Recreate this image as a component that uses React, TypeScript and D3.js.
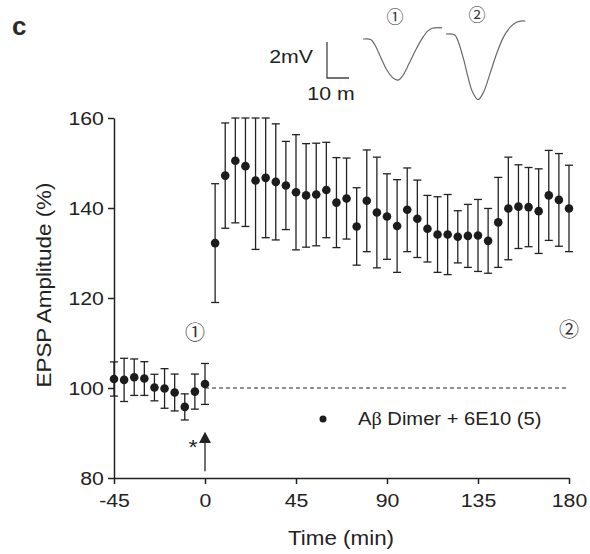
import React, { useEffect, useRef } from "react";
import * as d3 from "d3";

// baseline recordings, -45 .. 0 min
const baseTimes = [-45, -40, -35, -30, -25, -20, -15, -10, -5, 0];
const baseMeans = [102.0, 101.8, 102.4, 102.1, 100.1, 99.9, 99.0, 95.8, 99.2, 100.9];
const baseSems = [3.8, 4.8, 4.05, 3.75, 2.95, 4.4, 4.1, 2.9, 3.9, 4.55];

// after HFS, 5 .. 180 min
const postTimes = [
  5, 10, 15, 20, 25, 30, 35, 40, 45, 50, 55, 60, 65, 70, 75, 80, 85, 90,
  95, 100, 105, 110, 115, 120, 125, 130, 135, 140, 145, 150, 155, 160, 165, 170, 175, 180,
];
const postMeans = [
  132.2, 147.2, 150.5, 149.3, 146.1, 146.7, 145.8, 145.0, 143.5, 142.8, 143.0, 144.0,
  141.2, 142.1, 135.9, 141.6, 139.0, 138.1, 136.0, 139.6, 137.6, 135.4, 134.1, 134.1,
  133.6, 133.8, 133.9, 132.7, 136.8, 139.9, 140.3, 140.2, 139.3, 142.8, 141.8, 139.9,
];
const postSems = [
  13.2, 11.7, 13.8, 13.4, 15.3, 13.3, 12.9, 9.8, 12.8, 11.5, 11.4, 10.6,
  10.0, 9.0, 8.6, 11.3, 12.3, 9.5, 10.3, 9.3, 8.6, 7.4, 8.4, 8.9,
  5.8, 7.0, 8.0, 7.2, 10.0, 11.4, 9.3, 8.8, 9.4, 10.0, 10.3, 9.6,
];

const xTicks = [-45, 0, 45, 90, 135, 180];
const yTicks = [80, 100, 120, 140, 160];
const legendLabel = " Dimer + 6E10 (5)";

// example EPSP traces (ms, mV relative to start)
const trace1Ms = [0, 3.5, 5.5, 8, 11, 14, 16, 18, 21, 24, 27, 29.5, 31.5, 36];
const trace1mV = [0, -0.03, -0.35, -1.0, -1.75, -2.2, -2.28, -2.05, -1.35, -0.6, 0.05, 0.45, 0.6, 0.62];
const trace2Ms = [0, 4, 5.5, 8, 10, 12, 14.5, 17, 20, 23, 26, 29, 32, 34, 36];
const trace2mV = [0, -0.05, -0.4, -1.4, -2.4, -3.2, -3.65, -3.25, -2.2, -1.1, -0.2, 0.35, 0.65, 0.72, 0.72];

const W = 590;
const H = 554;
const FONT = "'Liberation Sans', Arial, Helvetica, sans-serif";
const INK = "#222";
const SX = 1.12; // scanned type is a bit wider than Arial

export default function App() {
  const ref = useRef<SVGSVGElement>(null);

  useEffect(() => {
    const svg = d3.select(ref.current);
    svg.selectAll("*").remove();

    const x = d3.scaleLinear().domain([-45, 180]).range([114, 569]);
    const y = d3.scaleLinear().domain([80, 160]).range([478, 118]);

    const label = (tx, ty, str, size, anchor = "start", extra = "") =>
      svg.append("text")
        .attr("transform", `translate(${tx},${ty}) ${extra} scale(${SX},1)`)
        .attr("text-anchor", anchor)
        .attr("font-family", FONT)
        .attr("font-size", size)
        .attr("fill", INK)
        .text(str);

    // axes
    const gx = svg.append("g")
      .attr("transform", `translate(0,${y(80)})`)
      .call(d3.axisBottom(x).tickValues(xTicks).tickSize(6).tickSizeOuter(0).tickPadding(10).tickFormat(d => String(d)));
    const gy = svg.append("g")
      .attr("transform", `translate(${x(-45)},0)`)
      .call(d3.axisLeft(y).tickValues(yTicks).tickSize(6).tickSizeOuter(0).tickPadding(3).tickFormat(d => String(d)));

    [gx, gy].forEach(g => {
      g.select(".domain").attr("stroke", INK).attr("stroke-width", 1.5);
      g.selectAll(".tick line").attr("stroke", INK).attr("stroke-width", 1.5);
      g.selectAll(".tick text")
        .attr("font-family", FONT)
        .attr("font-size", 19)
        .attr("fill", INK)
        .attr("transform", `scale(${SX},1)`);
    });

    label(341, 545, "Time (min)", 20, "middle");
    label(51, 285, "EPSP Amplitude (%)", 20, "middle", "rotate(-90)");

    // dashed baseline
    svg.append("line")
      .attr("x1", x(0)).attr("x2", x(180))
      .attr("y1", y(100)).attr("y2", y(100))
      .attr("stroke", INK).attr("stroke-width", 1)
      .attr("stroke-dasharray", "4,3");

    const data = [
      ...baseTimes.map((t, i) => ({ t, m: baseMeans[i], s: baseSems[i] })),
      ...postTimes.map((t, i) => ({ t, m: postMeans[i], s: postSems[i] })),
    ];

    const bars = svg.append("g").attr("stroke", INK).attr("stroke-width", 1.3);
    data.forEach(d => {
      const top = y(Math.min(d.m + d.s, 160));
      const bot = y(d.m - d.s);
      const cx = x(d.t);
      bars.append("line").attr("x1", cx).attr("x2", cx).attr("y1", top).attr("y2", bot);
      bars.append("line").attr("x1", cx - 4).attr("x2", cx + 4).attr("y1", top).attr("y2", top);
      bars.append("line").attr("x1", cx - 4).attr("x2", cx + 4).attr("y1", bot).attr("y2", bot);
    });

    svg.append("g").selectAll("circle")
      .data(data)
      .enter()
      .append("circle")
      .attr("cx", d => x(d.t))
      .attr("cy", d => y(d.m))
      .attr("r", 4.3)
      .attr("fill", "#1c1c1c");

    // HFS arrow at time 0
    svg.append("line")
      .attr("x1", x(0)).attr("x2", x(0))
      .attr("y1", y(81.5)).attr("y2", y(88))
      .attr("stroke", INK).attr("stroke-width", 1.3);
    svg.append("path")
      .attr("d", `M${x(0)},${y(90.3)} L${x(0) + 6},${y(87.8)} L${x(0) - 6},${y(87.8)} Z`)
      .attr("fill", INK);
    label(193, 454, "*", 21, "middle");

    // legend
    svg.append("circle").attr("cx", 323).attr("cy", 419).attr("r", 3.5).attr("fill", "#1c1c1c");
    const lt = label(358, 425, "", 18);
    lt.append("tspan").text("A");
    lt.append("tspan").attr("font-family", "'Liberation Serif', 'DejaVu Serif', serif").text("β");
    lt.append("tspan").text(legendLabel);

    // circled markers
    const circled = (cx, cy, str, size) =>
      svg.append("text")
        .attr("x", cx).attr("y", cy).attr("dy", "0.36em")
        .attr("text-anchor", "middle")
        .attr("font-family", "'Noto Sans CJK JP', 'DejaVu Sans', sans-serif")
        .attr("font-size", size)
        .attr("fill", "#333")
        .text(str);
    circled(195, 333, "①", 20);
    circled(569, 330, "②", 20);
    circled(395, 17, "①", 17);
    circled(477, 15, "②", 17);

    // scale bar and traces
    const ms = d3.scaleLinear().domain([0, 10]).range([0, 22]);
    const mv = d3.scaleLinear().domain([0, 2]).range([0, 36]);
    svg.append("path")
      .attr("d", `M327,42 L327,${42 + mv(2)} L${327 + ms(10)},${42 + mv(2)}`)
      .attr("fill", "none").attr("stroke", "#444").attr("stroke-width", 1.3);
    label(313, 63, "2mV", 19, "end");
    label(331, 100, "10 m", 19, "middle");

    const drawTrace = (ox, oy, tms, tmv) => {
      const line = d3.line<number>()
        .x((_, i) => ox + ms(tms[i]))
        .y(v => oy - mv(v))
        .curve(d3.curveCatmullRom.alpha(0.5));
      svg.append("path")
        .attr("d", line(tmv))
        .attr("fill", "none")
        .attr("stroke", "#6a6a6a")
        .attr("stroke-width", 1.2);
    };
    drawTrace(363, 39, trace1Ms, trace1mV);
    drawTrace(446, 34, trace2Ms, trace2mV);

    // panel letter
    svg.append("text")
      .attr("x", 12).attr("y", 35)
      .attr("font-family", FONT)
      .attr("font-weight", "bold")
      .attr("font-size", 26)
      .attr("fill", "#2a2a2a")
      .text("c");
  }, []);

  return (
    <svg
      ref={ref}
      width={W}
      height={H}
      style={{ position: "absolute", left: 0, top: 0, background: "#fff" }}
    />
  );
}
